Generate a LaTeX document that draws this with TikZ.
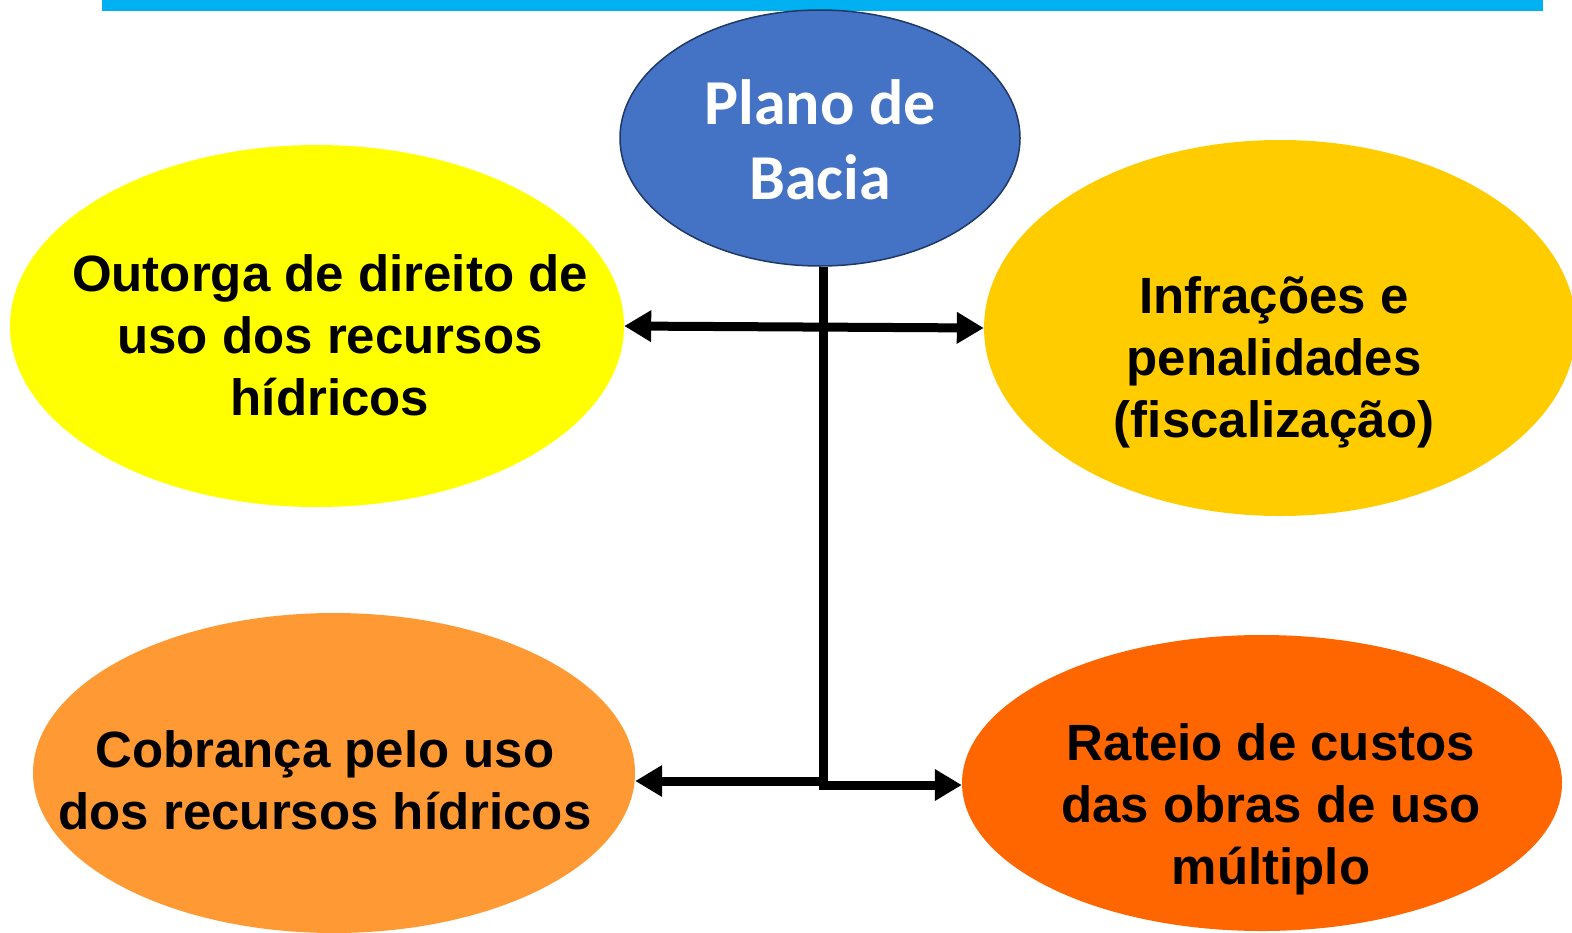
\documentclass[tikz,border=0pt]{standalone}
\usepackage{fontspec}
\setmainfont{Liberation Sans}
\newfontfamily\calib{Carlito}
\usetikzlibrary{arrows.meta,shapes.geometric}
\definecolor{barblue}{HTML}{00B0F0}
\definecolor{planblue}{HTML}{4472C4}
\definecolor{planedge}{HTML}{1F3864}
\definecolor{cyellow}{HTML}{FFFF00}
\definecolor{cgold}{HTML}{FFCC00}
\definecolor{corange}{HTML}{FF9933}
\definecolor{cdeep}{HTML}{FF6600}
\tikzset{
  blob/.style={ellipse, draw=none, inner sep=0pt},
  lbl/.style={align=center, font=\fontsize{51}{62}\selectfont\bfseries, text=black, inner sep=0pt},
  conn/.style={line width=9pt, black},
  tip/.style={-{Triangle[length=27pt,width=30pt]}},
}
\begin{document}
\begin{tikzpicture}[x=1pt,y=-1pt]
\useasboundingbox (0,0) rectangle (1572,932);
\clip (0,0) rectangle (1572,932);
\fill[barblue] (102,-5) rectangle (1543,11);
% ellipses
\node[blob, fill=cyellow, minimum width=614pt, minimum height=362pt] (tl) at (317,326) {};
\node[blob, fill=cgold, minimum width=592pt, minimum height=376pt] (tr) at (1280,328) {};
\node[blob, fill=corange, minimum width=602pt, minimum height=320pt] (bl) at (334,773) {};
\node[blob, fill=cdeep, minimum width=600pt, minimum height=296pt] (br) at (1262,783) {};
\node[ellipse, draw=planedge, line width=1.5pt, fill=planblue, minimum width=400pt, minimum height=256pt, inner sep=0pt] (plan) at (820,138) {};
% labels
\node[lbl] (tlt) at (330,335) {Outorga de direito de\\uso dos recursos\\hídricos};
\node[lbl] (trt) at (1274,362) {Infrações e\\penalidades\\(fiscalização)};
\node[lbl] (blt) at (325,780) {Cobrança pelo uso\\dos recursos hídricos};
\node[lbl] (brt) at (1271,809) {Rateio de custos\\das obras de uso\\múltiplo};
\node[align=center, text=white, inner sep=0pt, font=\calib\fontsize{64}{75}\selectfont\bfseries] (plant) at (820,140) {Plano de\\Bacia};
% connectors
\coordinate (jb) at (823,790);
\coordinate (jbl) at (823,781);
\coordinate (jbr) at (818.5,785);
\draw[conn, line cap=butt] (plan.south) ++(3,0) coordinate (ps) -- (jb);
\draw[conn, {Triangle[length=27pt,width=30pt]}-{Triangle[length=27pt,width=30pt]}] (tl.east) -- (tr.west);
\draw[conn, tip] (jbl) -- (jbl -| bl.east);
\draw[conn, tip] (jbr) -- (jbr -| br.west);
\end{tikzpicture}
\end{document}
